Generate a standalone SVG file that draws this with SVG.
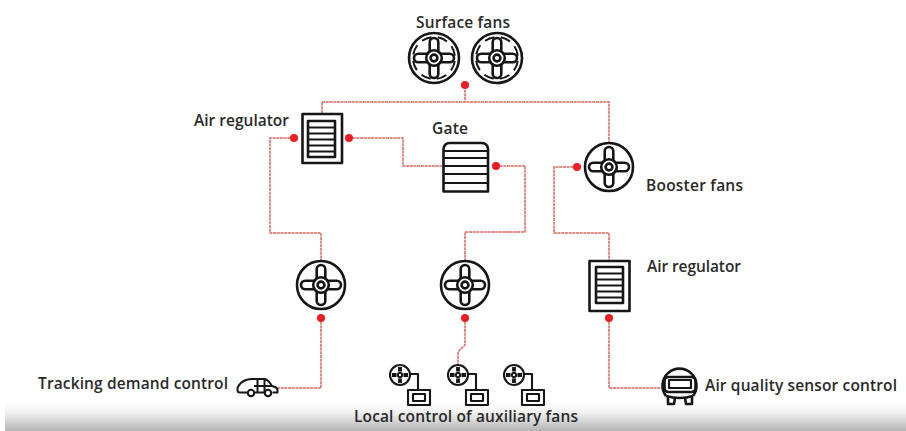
<svg xmlns="http://www.w3.org/2000/svg" width="906" height="431" viewBox="0 0 906 431">
<style>
text{font-family:"Open Sans","Noto Sans","Liberation Sans",sans-serif;font-size:15.5px;font-weight:600;fill:#2a2a2a}
.k{fill:none;stroke:#161616;stroke-width:2.6;stroke-linejoin:round}
.t{stroke-width:2.1}
.c{fill:none;stroke:#d9645c;stroke-width:1.5;stroke-dasharray:3 .7}
.d{fill:#ee1c25}
</style>
<defs>
<linearGradient id="fade" x1="0" y1="0" x2="0" y2="1"><stop offset="0" stop-color="#fff" stop-opacity="0"/><stop offset=".5" stop-color="#ededed"/><stop offset="1" stop-color="#b4b4b4"/></linearGradient>
<g id="core">
<circle r="7.800" class="k"/><circle r="3.400" class="k"/>
<path class="k" d="M-4.300-6.500V-15.700a4.300 4.300 0 0 1 8.600 0V-6.500M-4.300 6.500V15.700a4.300 4.300 0 0 0 8.600 0V6.500M-6.500-4.300H-15.700a4.300 4.300 0 0 0 0 8.600H-6.500M6.500-4.300H15.700a4.300 4.300 0 0 1 0 8.600H6.500"/>
</g>
<g id="fan"><circle r="24" class="k"/><use href="#core"/></g>
<g id="sfan"><circle r="25" class="k"/><circle r="21" class="k" stroke-dasharray="10 6.500" stroke-dashoffset="-3.200" style="stroke-width:2"/><use href="#core"/></g>
<g id="lfan">
<circle r="10" class="k t"/>
<g class="k t"><circle r="2.200"/><path d="M0-8V-3.500M0 8V3.500M-8 0H-3.500M8 0H3.500" style="stroke-width:3.800"/></g>
<path class="k t" d="M10-1H18V15"/><rect x="8" y="15" width="22" height="15" class="k t"/><rect x="13" y="19" width="12" height="7" class="k t"/>
</g>
<g id="louver">
<path class="k t" d="M0 6.500H27M0 12.500H27M0 18.500H27M0 24.500H27M0 30.500H27"/><rect width="27" height="36" class="k"/>
</g>
</defs>
<rect width="906" height="431" fill="#fff"/>
<rect x="5" y="397" width="901" height="34" fill="url(#fade)"/>
<g id="connectors">
<path class="c" d="M465 86V102M322 113V102H609V142"/>
<path class="c" d="M294 138H270V233H321V260"/>
<path class="c" d="M349 138H403V166H443"/>
<path class="c" d="M496 166H525V232H465V260"/>
<path class="c" d="M577 167H554V233H609V261"/>
<path class="c" d="M321 318V388H278"/>
<path class="c" d="M465 318V345L458 352V364"/>
<path class="c" d="M609 318V388H663"/>
<circle class="d" cx="465" cy="85" r="4"/><circle class="d" cx="294" cy="138" r="4"/><circle class="d" cx="349" cy="138" r="4"/><circle class="d" cx="496" cy="166" r="4"/><circle class="d" cx="577" cy="167" r="4"/><circle class="d" cx="321" cy="318" r="4"/><circle class="d" cx="465" cy="318" r="4"/><circle class="d" cx="609" cy="318" r="4"/>
</g>
<g id="surface-fans"><use href="#sfan" x="434" y="58"/><use href="#sfan" x="497" y="58"/><text x="416" y="28" textLength="94">Surface fans</text></g>
<g id="air-regulator-1"><rect x="302.500" y="114" width="39.500" height="49" class="k"/><use href="#louver" x="308" y="121"/><text x="194" y="126" textLength="95">Air regulator</text></g>
<g id="gate"><path class="k" d="M443.500 191.500V149a6 6 0 0 1 6-6H482a6 6 0 0 1 6 6V191.500Z"/><path class="k t" d="M443.500 151H488M443.500 158H488M443.500 166H488M443.500 174H488M443.500 183H488"/><text x="432" y="134" textLength="36">Gate</text></g>
<g id="booster-fans"><use href="#fan" x="609" y="167"/><text x="646" y="191" textLength="97">Booster fans</text></g>
<g id="air-regulator-2"><rect x="589.500" y="261" width="40" height="50" class="k"/><use href="#louver" x="596" y="267"/><text x="647" y="272" textLength="94">Air regulator</text></g>
<g id="fan-left"><use href="#fan" x="321" y="285"/></g>
<g id="fan-center"><use href="#fan" x="465" y="285"/></g>
<g id="tracking-demand-control">
<path class="k" style="stroke-width:2" d="M247.500 392.500H240Q237.500 392.500 237.500 390V388Q240 382 246 380Q249 379 253 379H264Q267 379 270 383L272 386L275 387Q277.500 388 277.500 390V392.500H272.500M264 392.500H255"/>
<path class="k" style="stroke-width:2" d="M257.500 379V392M264.500 379V392M254 386H272"/>
<circle cx="251" cy="393" r="3.200" class="k t"/><circle cx="268" cy="393" r="3.200" class="k t"/>
<text x="38" y="389" textLength="190">Tracking demand control</text>
</g>
<g id="local-control"><use href="#lfan" x="400" y="375"/><use href="#lfan" x="458" y="375"/><use href="#lfan" x="514" y="375"/><text x="354" y="422" textLength="224">Local control of auxiliary fans</text></g>
<g id="air-quality-sensor">
<path class="k" d="M666 396a17 17 0 1 1 27 0"/><path class="k" d="M666 396Q680 400 693 396"/>
<rect x="664.500" y="377" width="31" height="15" rx="4" class="k"/><rect x="669" y="380" width="22" height="8" class="k t"/>
<path class="k" fill="#161616" d="M668 397V404H674L675 398M692 397V404H686L685 398"/>
<text x="705" y="391" textLength="192">Air quality sensor control</text>
</g>
</svg>
